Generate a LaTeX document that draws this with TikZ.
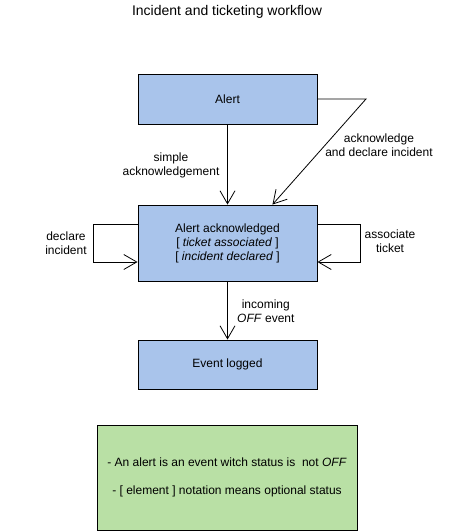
\documentclass[tikz,border=0pt]{standalone}
\usepackage{fontspec}
\setmainfont{Liberation Sans}
\usetikzlibrary{arrows.meta,calc}
\definecolor{statefill}{HTML}{A9C4EB}
\definecolor{notefill}{HTML}{B9E0A5}
\begin{document}
\begin{tikzpicture}[x=1pt,y=-1pt,
  state/.style={draw=black,line width=0.9pt,fill=statefill,minimum width=179pt,
    inner sep=0pt,align=center,font=\fontsize{12}{14}\selectfont},
  note/.style={draw=black,line width=0.9pt,fill=notefill,minimum width=260pt,
    minimum height=105pt,inner sep=0pt,align=center,font=\fontsize{12}{28}\selectfont},
  lbl/.style={align=center,inner sep=0pt,font=\fontsize{12}{14}\selectfont},
  arr/.style={line width=0.8pt,-{Straight Barb[length=13pt,width=15pt,line width=0.8pt]}},
  loop/.style={line width=0.8pt,-{Straight Barb[length=13pt,width=15pt,line width=0.8pt]}}]
  \useasboundingbox (0,0) rectangle (454,532);

  % title
  \node[font=\fontsize{14}{16}\selectfont] (title) at (227,12) {Incident and ticketing workflow};

  % states
  \node[state,minimum height=50pt] (alert) at (227.5,99) {Alert};
  \node[state,minimum height=76pt] (ack) at (227.5,243)
    {Alert acknowledged\\ {[} \textit{ticket associated} {]}\\ {[} \textit{incident declared} {]}};
  \node[state,minimum height=49pt] (logged) at (227.5,364.5) {Event logged};

  % legend
  \node[note] (legend) at (227,477.5)
    {- An alert is an event witch status is\ \ not \textit{OFF}\\
     - [ element ] notation means optional status};

  % transitions
  \draw[arr] (alert) -- (ack);
  \node[lbl] (simple) at (171,165) {simple\\acknowledgement};

  \coordinate (bend) at (366,99);
  \draw[arr] (alert.east) -- (bend) -- ($(ack.north west)!0.75!(ack.north east)$);
  \node[lbl] (declare) at (379,145) {acknowledge\\and declare incident};

  \draw[loop] ([yshift=19pt]ack.west) -- ++(-44,0) |- ([yshift=-19pt]ack.west);
  \node[lbl] (incident) at (66,243) {declare\\incident};

  \draw[loop] ([yshift=19pt]ack.east) -- ++(43,0) |- ([yshift=-19pt]ack.east);
  \node[lbl] (assoc) at (390,241) {associate\\ticket};

  \draw[arr] (ack) -- (logged);
  \node[lbl,align=center,anchor=west] (off) at (237,311) {incoming\\\textit{OFF} event};
\end{tikzpicture}
\end{document}
